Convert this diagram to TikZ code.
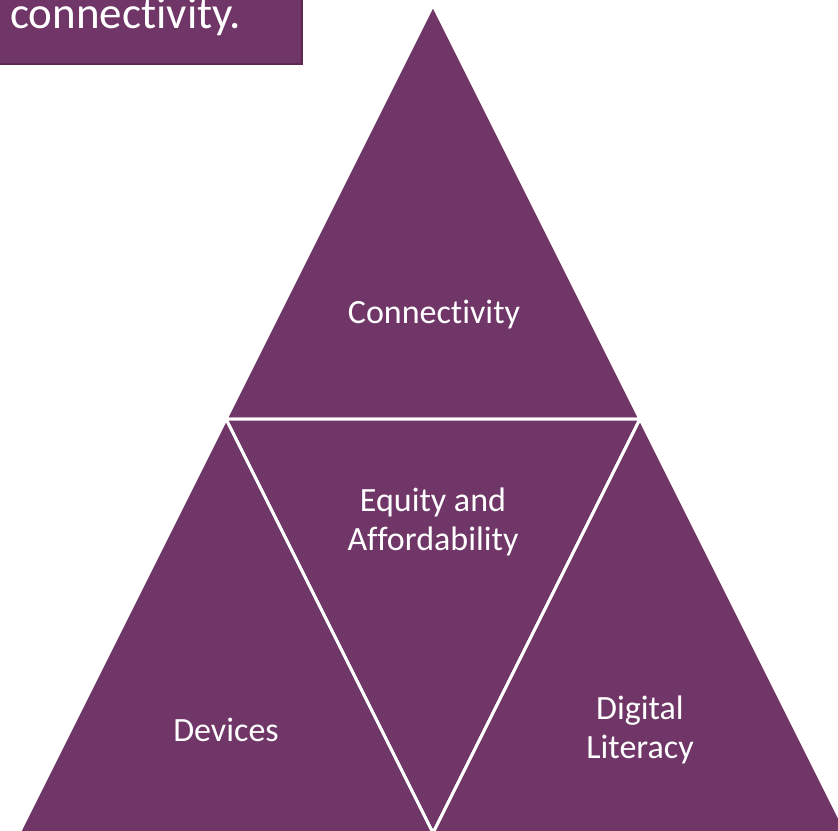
\documentclass[tikz,border=0pt]{standalone}
\usepackage{fontspec}
\newfontfamily\calib[Ligatures=NoCommon]{Carlito}
\definecolor{plum}{HTML}{703667}
\definecolor{plumdark}{HTML}{5A2A52}
\tikzset{
  tri/.style={fill=plum, draw=white, line width=3pt, line join=round},
  lbl/.style={text=white, align=center, inner sep=0pt, font=\calib\fontsize{34}{39}\selectfont}
}
\begin{document}
\begin{tikzpicture}[x=1pt,y=-1pt]
  % page frame
  \useasboundingbox (0,0) rectangle (838,830);
  \clip (0,0) rectangle (838,830);
  % corner points of the pyramid
  \coordinate (A) at (433,5);
  \coordinate (L) at (226,419);
  \coordinate (R) at (640,419);
  \coordinate (BL) at (19,833);
  \coordinate (M) at (433,833);
  \coordinate (BR) at (847,833);
  % four triangles
  \draw[tri] (A)--(L)--(R)--cycle;
  \draw[tri] (L)--(R)--(M)--cycle;
  \draw[tri] (L)--(BL)--(M)--cycle;
  \draw[tri] (R)--(M)--(BR)--cycle;
  % title box, cut by the page
  \draw[fill=plum, draw=plumdark, line width=1.5pt] (-4,-4) rectangle (302,64);
  \node[anchor=base west, text=white, inner sep=0pt, font=\calib\fontsize{45}{50}\selectfont] (title) at (10,28) {connectivity.};
  % labels
  \node[lbl] (conn) at (434,315) {Connectivity};
  \node[lbl] (equity) at (433,522) {Equity and\\Affordability};
  \node[lbl] (dev) at (226,730) {Devices};
  \node[lbl] (digit) at (640,730) {Digital\\Literacy};
\end{tikzpicture}
\end{document}
